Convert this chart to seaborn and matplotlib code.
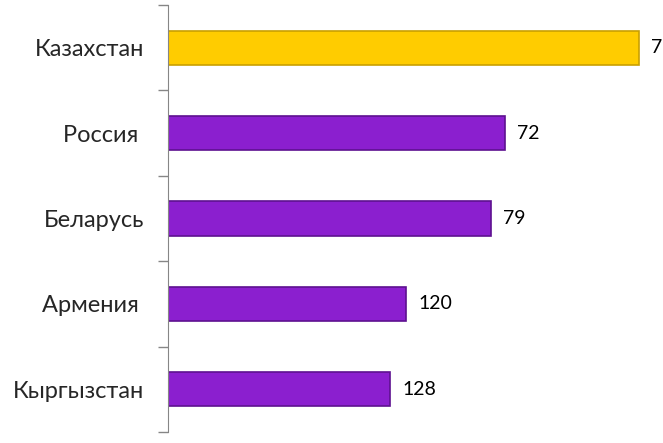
import matplotlib
matplotlib.use("Agg")
import matplotlib.pyplot as plt
import seaborn as sns

# dados
countries = ["Казахстан", "Россия ", "Беларусь", "Армения ", "Кыргызстан"]
ranks = [7, 72, 79, 120, 128]
colors = ["#FFCC00", "#8B1FCF", "#8B1FCF", "#8B1FCF", "#8B1FCF"]
edge_colors = ["#C9A000", "#5E1190", "#5E1190", "#5E1190", "#5E1190"]
AXIS_MAX = 236  # eixo invertido: as barras partem do maximo

sns.set_style("white")
plt.rcParams["font.family"] = ["Lato", "DejaVu Sans"]

fig = plt.figure(figsize=(6.63, 4.43), dpi=100)
ax = fig.add_axes([168 / 663, 11 / 443, (663 - 168) / 663, 427 / 443])

# comprimento da barra no eixo invertido
lengths = [AXIS_MAX - r for r in ranks]
sns.barplot(x=lengths, y=countries, hue=countries, palette=colors, legend=False,
            width=0.4, orient="h", ax=ax, linewidth=1.2, saturation=1)
for patch, ec in zip(ax.patches, edge_colors):
    patch.set_edgecolor(ec)

ax.set_xlim(0, AXIS_MAX + 4.9)
ax.set_ylim(4.5, -0.5)

for i, (ln, r) in enumerate(zip(lengths, ranks)):
    ax.text(ln + 6.0, i, str(r), va="center", ha="left", fontsize=14, color="black")

sns.despine(ax=ax, top=True, right=True, bottom=True)
ax.spines["left"].set_color("#868686")
ax.set_xticks([])
ax.set_yticks(range(len(countries)))
ax.set_yticklabels(countries, fontsize=17)
ax.tick_params(axis="y", which="major", length=0, pad=17)
ax.set_yticks([i - 0.5 for i in range(len(countries) + 1)], minor=True)
ax.tick_params(axis="y", which="minor", length=7, color="#868686", width=1, left=True)
ax.set_xlabel("")
ax.set_ylabel("")

fig.savefig("out.png", dpi=100)
